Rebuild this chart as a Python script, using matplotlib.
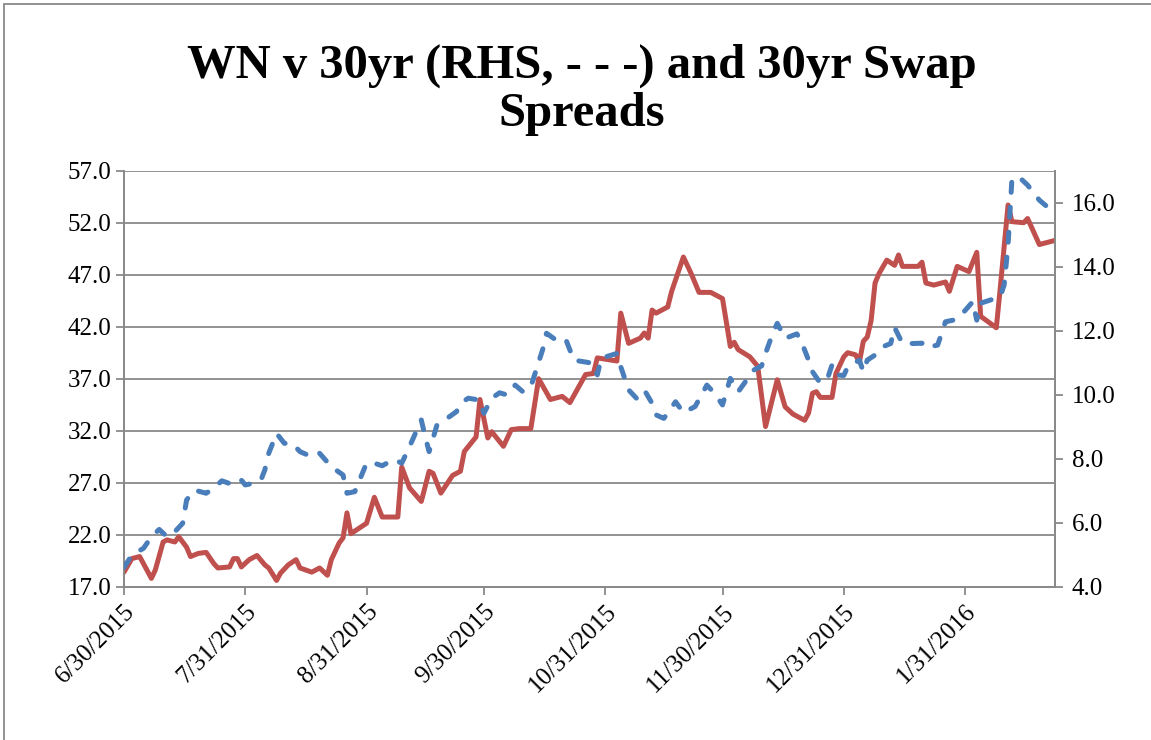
import matplotlib
matplotlib.use('Agg')
import matplotlib.pyplot as plt
from matplotlib.patches import Rectangle
import numpy as np
import pandas as pd

# Данные: дни от 30.06.2015 и значения
start = pd.Timestamp('2015-06-30')

# 30yr swap spreads (левая ось, сплошная красная)
swap_days = [0, 2, 4, 7, 8, 10, 11, 13, 14, 16, 17, 19, 21, 23, 24, 27, 28, 29, 30, 32,
             34, 36, 37, 39, 40, 42, 44, 45, 48, 50, 52, 53, 55, 56, 57, 58, 60, 62, 64, 66,
             70, 71, 73, 76, 78, 79, 81, 84, 86, 87, 90, 91, 93, 94, 97, 99, 101, 104, 106, 109,
             112, 114, 118, 120, 121, 126, 127, 129, 132, 133, 134, 135, 136, 139, 140, 141, 143, 145, 147, 150,
             153, 155, 156, 157, 160, 162, 164, 167, 169, 171, 174, 175, 176, 177, 178, 181, 182, 184, 185, 187,
             188, 189, 190, 191, 192, 193, 195, 197, 198, 199, 203, 204, 205, 207, 210, 211, 213, 216, 218, 219,
             223, 224, 226, 227, 230, 231, 234, 238]
swap_vals = [18.4, 19.7, 19.9, 17.8, 18.6, 21.3, 21.5, 21.3, 21.8, 20.8, 19.9, 20.2, 20.3, 19.2, 18.8, 18.9, 19.7, 19.7, 18.9, 19.6,
             20.0, 19.1, 18.8, 17.6, 18.3, 19.1, 19.6, 18.8, 18.4, 18.8, 18.1, 19.6, 21.2, 21.7, 24.1, 22.1, 22.6, 23.1, 25.6, 23.7,
             23.7, 28.5, 26.5, 25.2, 28.1, 27.9, 26.0, 27.7, 28.1, 30.0, 31.4, 35.0, 31.3, 31.9, 30.5, 32.1, 32.2, 32.2, 37.0, 35.0,
             35.3, 34.7, 37.4, 37.5, 39.0, 38.7, 43.3, 40.4, 40.9, 41.4, 40.9, 43.6, 43.3, 43.9, 45.4, 46.5, 48.7, 47.1, 45.3, 45.3,
             44.7, 40.1, 40.5, 39.8, 39.1, 38.2, 32.4, 36.9, 34.3, 33.6, 33.0, 33.7, 35.6, 35.75, 35.2, 35.2, 37.5, 39.1, 39.5, 39.3,
             38.6, 40.6, 41.0, 42.6, 46.2, 47.1, 48.4, 47.9, 48.9, 47.8, 47.8, 48.2, 46.2, 46.0, 46.3, 45.4, 47.8, 47.3, 49.15, 43.0,
             41.9, 45.7, 53.7, 52.1, 52.0, 52.4, 49.9, 50.3]

# WN v 30yr (правая ось, пунктир синий)
wn_days = [0, 2, 5, 7, 9, 11, 13, 15, 16, 18, 21, 23, 25, 28, 30, 31, 33, 35, 36, 37,
           39, 41, 43, 45, 48, 50, 53, 56, 57, 59, 62, 64, 66, 69, 71, 73, 76, 77, 78, 80,
           82, 85, 86, 88, 91, 92, 94, 96, 98, 100, 102, 104, 107, 108, 111, 113, 115, 120, 121, 122,
           126, 127, 129, 131, 133, 135, 136, 138, 141, 143, 146, 149, 151, 153, 155, 157, 161, 163, 164, 166,
           167, 169, 172, 173, 175, 176, 178, 180, 181, 182, 184, 185, 188, 189, 190, 192, 194, 196, 197, 199,
           202, 204, 205, 208, 210, 212, 214, 217, 218, 219, 224, 225, 226, 227, 229, 231, 234, 237, 238]
wn_vals = [4.6, 4.99, 5.2, 5.56, 5.79, 5.56, 5.72, 5.98, 6.71, 7.02, 6.92, 7.08, 7.31, 7.18, 7.33, 7.18, 7.23, 7.33, 7.65, 8.17,
           8.79, 8.48, 8.48, 8.22, 8.06, 8.17, 7.75, 7.49, 6.92, 6.97, 7.86, 7.86, 7.78, 7.98, 7.86, 8.38, 9.21, 8.69, 8.22, 9.05,
           9.21, 9.47, 9.73, 9.89, 9.83, 9.42, 9.89, 10.06, 9.99, 10.30, 10.09, 10.25, 11.40, 11.92, 11.66, 11.71, 11.08, 10.98, 10.62, 11.14,
           11.29, 10.87, 10.15, 9.89, 10.15, 9.73, 9.37, 9.26, 9.78, 9.44, 9.63, 10.30, 10.04, 9.68, 10.51, 10.09, 10.77, 10.90, 11.29, 11.97,
           12.23, 11.76, 11.90, 11.71, 11.08, 10.72, 10.36, 10.56, 10.93, 10.62, 10.6, 10.87, 11.08, 10.72, 11.08, 11.24, 11.5, 11.6, 12.1, 11.6,
           11.6, 11.61, 11.47, 11.55, 12.28, 12.33, 12.49, 12.91, 12.33, 12.86, 13.06, 13.43, 14.68, 16.76, 16.78, 16.55, 16.08, 15.77, 15.7]

tick_dates = ['2015-06-30', '2015-07-31', '2015-08-31', '2015-09-30',
              '2015-10-31', '2015-11-30', '2015-12-31', '2016-01-31']
tick_labels = ['6/30/2015', '7/31/2015', '8/31/2015', '9/30/2015',
               '10/31/2015', '11/30/2015', '12/31/2015', '1/31/2016']
left_ticks = [17.0, 22.0, 27.0, 32.0, 37.0, 42.0, 47.0, 52.0, 57.0]
right_ticks = [4.0, 6.0, 8.0, 10.0, 12.0, 14.0, 16.0]

swap_dates = start + pd.to_timedelta(swap_days, unit='D')
wn_dates = start + pd.to_timedelta(wn_days, unit='D')

plt.rcParams['font.family'] = ['Liberation Serif', 'DejaVu Serif']
grey = '#898989'

fig = plt.figure(figsize=(11.51, 7.40), dpi=100)
ax = fig.add_axes([124 / 1151, 1 - 586.7 / 740, (1055 - 124) / 1151, (586.7 - 170.7) / 740])
ax2 = ax.twinx()

ax.plot(swap_dates, swap_vals, color='#C0504D', lw=3.6, solid_capstyle='round', solid_joinstyle='round', zorder=3)
ax2.plot(wn_dates, wn_vals, color='#4A7EBB', lw=3.6, dashes=(2.0, 3.0), dash_capstyle='round',
         dash_joinstyle='round', zorder=3)

ax.set_xlim(start, start + pd.Timedelta(days=238))
ax.set_ylim(17, 57)
ax2.set_ylim(4, 17.0)

ax.set_yticks(left_ticks)
ax.set_yticklabels(['%.1f' % v for v in left_ticks])
ax2.set_yticks(right_ticks)
ax2.set_yticklabels(['%.1f' % v for v in right_ticks])
ax.set_xticks(pd.to_datetime(tick_dates))
ax.set_xticklabels(tick_labels, rotation=45, ha='right', va='top', rotation_mode='anchor')

ax.yaxis.grid(True, color=grey, lw=1.3)
ax.set_axisbelow(True)
for a in (ax, ax2):
    a.spines['top'].set_visible(False)
    for s in ('left', 'right', 'bottom'):
        a.spines[s].set_color(grey)
        a.spines[s].set_linewidth(1.3)
    a.tick_params(axis='both', colors=grey, labelcolor='black', labelsize=18, length=6, width=1.3, direction='out')
ax.tick_params(axis='x', pad=4)
ax.tick_params(axis='y', pad=3)
ax2.tick_params(axis='y', pad=6)

fig.text(0.5056, 1 - 78 / 740, 'WN v 30yr (RHS, - - -) and 30yr Swap', ha='center', va='baseline',
         fontsize=35, fontweight='bold')
fig.text(0.5056, 1 - 126 / 740, 'Spreads', ha='center', va='baseline', fontsize=35, fontweight='bold')

fig.patches.append(Rectangle((4 / 1151, -0.01), 1.5, 1 - 4 / 740 + 0.01, transform=fig.transFigure,
                             fill=False, ec=grey, lw=1.3))

fig.savefig('out.png', dpi=100)
